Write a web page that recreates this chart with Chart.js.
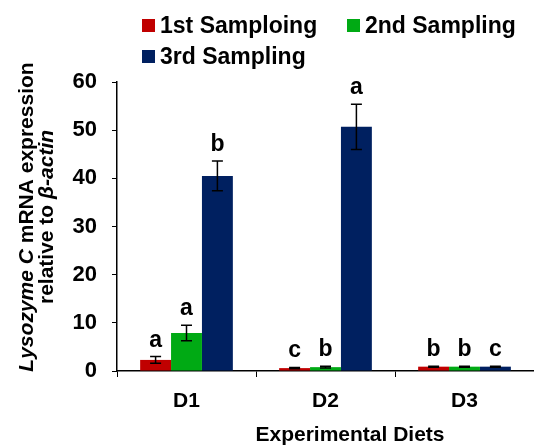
<!DOCTYPE html>
<html>
<head>
<meta charset="utf-8">
<script src="https://cdn.jsdelivr.net/npm/chart.js@4"></script>
<style>
  html, body { margin: 0; padding: 0; background: #fff; }
  canvas { display: block; }
</style>
</head>
<body>
<canvas id="lysoChart" width="534" height="445"></canvas>
<script>
// data
const diets = ['D1', 'D2', 'D3'];
const seriesNames = ['1st Samploing', '2nd Sampling', '3rd Sampling'];
const firstSampling = [2.3, 0.6, 0.9];
const secondSampling = [7.9, 0.8, 0.9];
const thirdSampling = [40.5, 50.7, 0.9];
const firstErr = [0.7, 0.15, 0.1];
const secondErr = [1.6, 0.2, 0.1];
const thirdErr = [3.1, 4.7, 0.1];
const firstLetters = ['a', 'c', 'b'];
const secondLetters = ['a', 'b', 'b'];
const thirdLetters = ['b', 'a', 'c'];
const yTicks = [0, 10, 20, 30, 40, 50, 60];

const colors = ['#C00000', '#00AA14', '#002060'];
const FONT = '"Liberation Sans", Arial, sans-serif';

const errors = [firstErr, secondErr, thirdErr];
const letters = [firstLetters, secondLetters, thirdLetters];

// error bars + significance letters, then legend and axis titles
const extras = {
    id: 'extras',
    afterDatasetsDraw(chart) {
        const ctx = chart.ctx;
        const y = chart.scales.y;
        ctx.save();
        chart.data.datasets.forEach((ds, i) => {
            const meta = chart.getDatasetMeta(i);
            meta.data.forEach((bar, j) => {
                const v = ds.data[j];
                const e = errors[i][j];
                const top = y.getPixelForValue(v + e);
                const bot = y.getPixelForValue(v - e);
                ctx.strokeStyle = '#000';
                ctx.lineWidth = 1.5;
                ctx.beginPath();
                ctx.moveTo(bar.x, top); ctx.lineTo(bar.x, bot);
                ctx.moveTo(bar.x - 5.5, top); ctx.lineTo(bar.x + 5.5, top);
                ctx.moveTo(bar.x - 5.5, bot); ctx.lineTo(bar.x + 5.5, bot);
                ctx.stroke();

                ctx.fillStyle = '#000';
                ctx.font = 'bold 23px ' + FONT;
                ctx.textAlign = 'center';
                ctx.textBaseline = 'alphabetic';
                ctx.fillText(letters[i][j], bar.x, top - 10);
            });
        });
        ctx.restore();
    },
    afterDraw(chart) {
        const ctx = chart.ctx;
        ctx.save();
        ctx.fillStyle = '#000';
        ctx.textBaseline = 'alphabetic';

        // legend
        const spots = [[142, 19], [347, 19], [142, 50]];
        chart.data.datasets.forEach((ds, i) => {
            const [lx, ly] = spots[i];
            ctx.fillStyle = ds.backgroundColor;
            ctx.fillRect(lx, ly, 13, 13);
            ctx.fillStyle = '#000';
            ctx.font = 'bold 23px ' + FONT;
            ctx.textAlign = 'left';
            ctx.fillText(ds.label, lx + 18, ly + 14);
        });

        // x title
        ctx.font = 'bold 21px ' + FONT;
        ctx.textAlign = 'center';
        ctx.fillText('Experimental Diets', 350, 441);

        // y title, two lines with italic parts
        const lines = [
            [['Lysozyme C', true], [' mRNA expression', false]],
            [['relative to ', false], ['\u03B2-actin', true]]
        ];
        const baseX = [33, 53];
        const cy = 217;
        lines.forEach((parts, k) => {
            let total = 0;
            parts.forEach(p => {
                ctx.font = (p[1] ? 'italic ' : '') + 'bold 21px ' + FONT;
                total += ctx.measureText(p[0]).width;
            });
            ctx.save();
            ctx.translate(baseX[k], cy);
            ctx.rotate(-Math.PI / 2);
            ctx.textAlign = 'left';
            let x = -total / 2;
            parts.forEach(p => {
                ctx.font = (p[1] ? 'italic ' : '') + 'bold 21px ' + FONT;
                ctx.fillText(p[0], x, 0);
                x += ctx.measureText(p[0]).width;
            });
            ctx.restore();
        });
        ctx.restore();
    }
};

const ctx = document.getElementById('lysoChart').getContext('2d');
new Chart(ctx, {
    type: 'bar',
    data: {
        labels: diets,
        datasets: [firstSampling, secondSampling, thirdSampling].map((vals, i) => ({
            label: seriesNames[i],
            data: vals,
            backgroundColor: colors[i],
            borderWidth: 0,
            categoryPercentage: 0.667,
            barPercentage: 1.0
        }))
    },
    options: {
        responsive: false,
        animation: false,
        layout: { padding: { top: 82, left: 0, right: 0, bottom: 0 } },
        plugins: {
            legend: { display: false },
            tooltip: { enabled: false }
        },
        scales: {
            x: {
                offset: true,
                grid: { offset: true, drawOnChartArea: false, tickLength: 6, color: '#000' },
                border: { color: '#000', width: 1.5 },
                ticks: { color: '#000', padding: 12, font: { family: FONT, size: 21, weight: 'bold' } },
                afterFit(s) { s.height = 74; }
            },
            y: {
                min: 0,
                max: 60,
                afterBuildTicks(s) { s.ticks = yTicks.map(v => ({ value: v })); },
                grid: { drawOnChartArea: false, tickLength: 5, color: '#000' },
                border: { color: '#000', width: 1.5 },
                ticks: { color: '#000', padding: 15, font: { family: FONT, size: 22, weight: 'bold' } },
                afterFit(s) { s.width = 117; }
            }
        }
    },
    plugins: [extras]
});
</script>
</body>
</html>
